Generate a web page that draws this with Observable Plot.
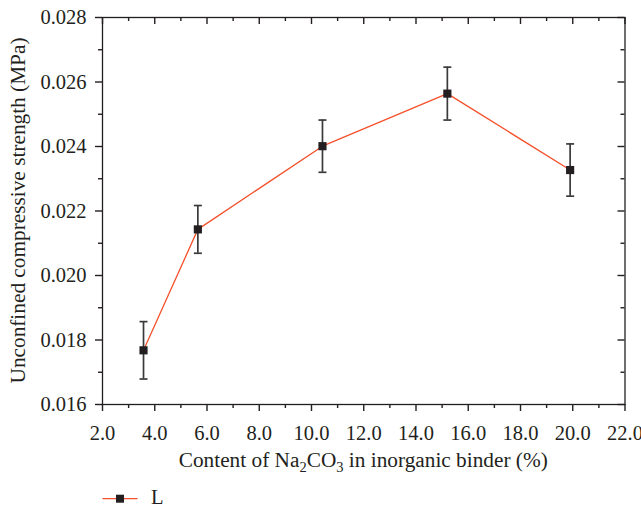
<!DOCTYPE html>
<html><head><meta charset="utf-8">
<script src="https://cdn.jsdelivr.net/npm/d3@7"></script>
<script src="https://cdn.jsdelivr.net/npm/@observablehq/plot@0.6"></script>
<style>
body{margin:0;background:#fff;font-family:"Liberation Serif",serif;}
#legend{height:29px;}
#legend svg{display:block;}
#chart svg{display:block;}
</style></head><body>
<div id="chart"></div>
<div id="legend"></div>
<script>
// Data
const content = [3.57, 5.65, 10.42, 15.2, 19.9];          // Na2CO3 content (%)
const strength = [0.01768, 0.02143, 0.02401, 0.02564, 0.02327]; // UCS (MPa)
const errors = [0.00089, 0.00074, 0.00081, 0.00082, 0.00081];
const xMajor = [2, 4, 6, 8, 10, 12, 14, 16, 18, 20, 22];
const xMinor = [3, 5, 7, 9, 11, 13, 15, 17, 19, 21];
const yMajor = [0.016, 0.018, 0.020, 0.022, 0.024, 0.026, 0.028];
const yMinor = [0.017, 0.019, 0.021, 0.023, 0.025, 0.027];
const seriesName = "L";
const xLabelParts = [["Content of Na", 0], ["2", 1], ["CO", 0], ["3", 1], [" in inorganic binder (%)", 0]];
const yLabel = "Unconfined compressive strength (MPa)";

const data = content.map((x, i) => ({x, y: strength[i], lo: strength[i] - errors[i], hi: strength[i] + errors[i]}));

const cap = {draw(c, l) { c.moveTo(-l / 2, 0); c.lineTo(l / 2, 0); }};

const W = 641, H = 480, mL = 102, mR = 16.5, mT = 17, mB = 76;
const pW = W - mL - mR, pH = H - mT - mB;
const ink = "#231f20";
const tk = {stroke: ink, strokeWidth: 1.4};

const chart = Plot.plot({
  width: W, height: H,
  marginLeft: mL, marginRight: mR, marginTop: mT, marginBottom: mB,
  x: {domain: [2, 22]},
  y: {domain: [0.016, 0.028]},
  style: {fontFamily: "'Liberation Serif', serif", fontSize: "20.5px", color: ink, background: "white", overflow: "visible"},
  marks: [
    Plot.axisX({ticks: xMajor, tickSize: 0, tickPadding: 21, tickFormat: d3.format(".1f"), label: null, fontSize: 20.5}),
    Plot.axisY({ticks: yMajor, tickSize: 0, tickPadding: 16, tickFormat: d3.format(".3f"), label: null, fontSize: 20.5}),
    // bottom ticks (outward)
    Plot.ruleX(xMajor, {x: d => d, insetTop: pH, insetBottom: -7, ...tk}),
    Plot.ruleX(xMinor, {x: d => d, insetTop: pH, insetBottom: -4, ...tk}),
    // top ticks (inward)
    Plot.ruleX(xMajor, {x: d => d, insetTop: 0, insetBottom: pH - 7, ...tk}),
    Plot.ruleX(xMinor, {x: d => d, insetTop: 0, insetBottom: pH - 4, ...tk}),
    // left ticks (outward)
    Plot.ruleY(yMajor, {y: d => d, insetLeft: -7, insetRight: pW, ...tk}),
    Plot.ruleY(yMinor, {y: d => d, insetLeft: -4, insetRight: pW, ...tk}),
    // right ticks (inward)
    Plot.ruleY(yMajor, {y: d => d, insetLeft: pW - 7, insetRight: 0, ...tk}),
    Plot.ruleY(yMinor, {y: d => d, insetLeft: pW - 4, insetRight: 0, ...tk}),
    Plot.frame({stroke: ink, strokeWidth: 1.3}),
    Plot.ruleX(data, {x: "x", y1: "lo", y2: "hi", stroke: "#3a3a3a", strokeWidth: 1.7}),
    Plot.vector(data, {x: "x", y: "hi", length: 8, shape: cap, anchor: "start", stroke: "#3a3a3a", strokeWidth: 1.7, strokeLinecap: "butt"}),
    Plot.vector(data, {x: "x", y: "lo", length: 8, shape: cap, anchor: "start", stroke: "#3a3a3a", strokeWidth: 1.7, strokeLinecap: "butt"}),
    Plot.line(data, {x: "x", y: "y", stroke: "#f4502a", strokeWidth: 1.3}),
    Plot.dot(data, {x: "x", y: "y", symbol: "square", r: 4.6, fill: ink, stroke: "none"})
  ]
});
document.getElementById("chart").appendChild(chart);

// Axis titles
const svg = d3.select(chart);
const xl = svg.append("text")
  .attr("x", mL + pW / 2).attr("y", 466.5)
  .attr("text-anchor", "middle").attr("fill", ink)
  .style("font-size", "21.3px");
xLabelParts.forEach(([t, sub], i) => {
  const ts = xl.append("tspan").text(t);
  if (sub) ts.style("font-size", "14.5px").attr("dy", 5);
  else if (i > 0) ts.attr("dy", -5);
});
svg.append("text")
  .attr("transform", `translate(25,${mT + pH / 2}) rotate(-90)`)
  .attr("text-anchor", "middle").attr("fill", ink)
  .style("font-size", "21.3px").text(yLabel);

// Legend
const lg = d3.select("#legend").append("svg").attr("width", W).attr("height", 29);
lg.append("line").attr("x1", 102.5).attr("x2", 137.5).attr("y1", 18.7).attr("y2", 18.7)
  .attr("stroke", "#f4502a").attr("stroke-width", 1.3);
lg.append("rect").attr("x", 116).attr("y", 14.7).attr("width", 8).attr("height", 8).attr("fill", ink);
lg.append("text").attr("x", 151).attr("y", 24).attr("fill", ink)
  .style("font-family", "'Liberation Serif', serif").style("font-size", "20.5px").text(seriesName);
</script>
</body></html>
